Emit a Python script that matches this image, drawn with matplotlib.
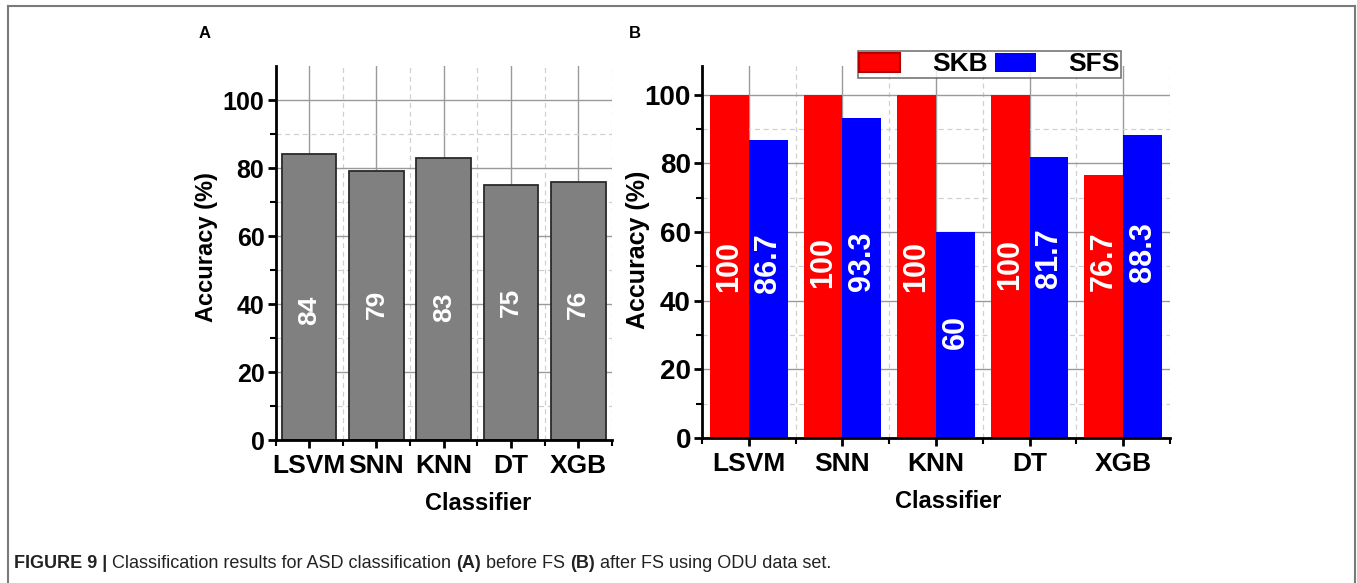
import matplotlib
matplotlib.use("Agg")
import matplotlib.pyplot as plt
from matplotlib.lines import Line2D
from matplotlib.patches import Patch
import numpy as np

plt.rcParams['font.family'] = ['Liberation Sans', 'DejaVu Sans']

# ------- DATA -------
classifiers = ["LSVM", "SNN", "KNN", "DT", "XGB"]
acc_before = [84, 79, 83, 75, 76]
acc_skb = [100, 100, 100, 100, 76.7]
acc_sfs = [86.7, 93.3, 60, 81.7, 88.3]
lbl_before = ["84", "79", "83", "75", "76"]
lbl_skb = ["100", "100", "100", "100", "76.7"]
lbl_sfs = ["86.7", "93.3", "60", "81.7", "88.3"]
# height (in data units) where the in-bar labels sit
ytxt_before = [38, 40, 39, 40.5, 40]
ytxt_skb = [50, 51, 50, 50.5, 51.5]
ytxt_sfs = [51, 51.5, 31, 52.5, 54]
yticks = [0, 20, 40, 60, 80, 100]
caption = [("FIGURE 9 | ", "bold"),
           ("Classification results for ASD classification ", "normal"),
           ("(A)", "bold"), (" before FS ", "normal"),
           ("(B)", "bold"), (" after FS using ODU data set.", "normal")]

W, H = 1357, 583
fig = plt.figure(figsize=(W / 100, H / 100), dpi=100)


def px_axes(l, r, t, b):
    return fig.add_axes([l / W, 1 - b / H, (r - l) / W, (b - t) / H])


def style_axes(ax, ymax, tick_fs):
    x = np.arange(1, len(classifiers) + 1)
    ax.set_xlim(0.5, len(classifiers) + 0.5)
    ax.set_ylim(0, ymax)
    ax.set_xticks(x)
    ax.set_xticks(np.arange(0.5, len(classifiers) + 1, 1), minor=True)
    ax.set_xticklabels(classifiers, fontsize=19, fontweight='bold')
    ax.set_yticks(yticks)
    ax.set_yticks(np.arange(10, ymax, 20), minor=True)
    ax.set_yticklabels([str(t) for t in yticks], fontsize=tick_fs, fontweight='bold')
    for s in ['top', 'right']:
        ax.spines[s].set_visible(False)
    for s in ['left', 'bottom']:
        ax.spines[s].set_linewidth(2)
    ax.tick_params(which='major', direction='out', length=6, width=2, pad=2)
    ax.tick_params(axis='x', which='major', pad=4)
    ax.tick_params(which='minor', direction='out', length=4, width=1.5)
    ax.set_axisbelow(True)
    ax.grid(which='major', color='#9a9a9a', lw=1.0, ls='-')
    ax.grid(which='minor', color='#d0d0d0', lw=0.9, ls=(0, (4, 3)))
    return x


# ------- PANEL A -------
axA = px_axes(275.5, 612, 66, 440)
x = style_axes(axA, 110, 18)
axA.bar(x, acc_before, width=0.81, color='#808080', edgecolor='#2a2a2a', linewidth=1.3)
for xi, yt, t in zip(x, ytxt_before, lbl_before):
    axA.text(xi, yt, t, rotation=90, ha='center', va='center', color='white',
             fontsize=19, fontweight='bold')
axA.set_ylabel("Accuracy (%)", fontsize=17, fontweight='bold')
axA.yaxis.set_label_coords(-0.172, 0.515)
axA.set_xlabel("Classifier", fontsize=17, fontweight='bold')
axA.xaxis.set_label_coords(0.602, -0.14)

# ------- PANEL B -------
axB = px_axes(702, 1170, 66, 438)
x = style_axes(axB, 108.3, 20)
bw = 0.415
axB.bar(x - bw / 2, acc_skb, width=bw, color='#ff0000', linewidth=0)
axB.bar(x + bw / 2, acc_sfs, width=bw, color='#0000ff', linewidth=0)
for xi, yt, t in zip(x - bw / 2, ytxt_skb, lbl_skb):
    axB.text(xi, yt, t, rotation=90, ha='center', va='center', color='white',
             fontsize=22, fontweight='bold')
for xi, yt, t in zip(x + bw / 2, ytxt_sfs, lbl_sfs):
    axB.text(xi, yt, t, rotation=90, ha='center', va='center', color='white',
             fontsize=22, fontweight='bold')
axB.set_ylabel("Accuracy (%)", fontsize=18, fontweight='bold')
axB.yaxis.set_label_coords(-0.112, 0.505)
axB.set_xlabel("Classifier", fontsize=17, fontweight='bold')
axB.xaxis.set_label_coords(0.526, -0.14)

handles = [Patch(facecolor='#ff0000', edgecolor='#b00000', lw=1.5, label='SKB'),
           Patch(facecolor='#0000ff', edgecolor='#0000ff', lw=0, label='SFS')]
leg = axB.legend(handles=handles, ncol=2, loc='upper left',
                 bbox_to_anchor=(0.333, 1.040),
                 prop={'size': 19, 'weight': 'bold'}, frameon=True, fancybox=False,
                 borderpad=0.05, handlelength=1.55, handleheight=0.75,
                 handletextpad=1.2, columnspacing=0.3, borderaxespad=0)
leg.get_frame().set_edgecolor('#555555')
leg.get_frame().set_linewidth(1.2)

# panel letters
fig.text(205 / W, 1 - 33 / H, "A", fontsize=12, fontweight='bold', ha='center', va='center')
fig.text(635 / W, 1 - 33 / H, "B", fontsize=12, fontweight='bold', ha='center', va='center')

# caption, drawn piece by piece
fig.canvas.draw()
renderer = fig.canvas.get_renderer()
xpos = 14 / W
for txt, wt in caption:
    t = fig.text(xpos, 1 - 563 / H, txt, fontsize=13, fontweight=wt, color='#222222',
                 ha='left', va='center')
    bb = t.get_window_extent(renderer)
    xpos = bb.x1 / W

# outer frame (left, top, right)
frame_c = '#7a7a7a'
fig.add_artist(Line2D([7.5 / W, 7.5 / W], [0, 1 - 6 / H], color=frame_c, lw=1.5))
fig.add_artist(Line2D([7.5 / W, 1355 / W], [1 - 6 / H, 1 - 6 / H], color=frame_c, lw=1.5))
fig.add_artist(Line2D([1355 / W, 1355 / W], [0, 1 - 6 / H], color=frame_c, lw=1.5))

fig.savefig("out.png", dpi=100)
